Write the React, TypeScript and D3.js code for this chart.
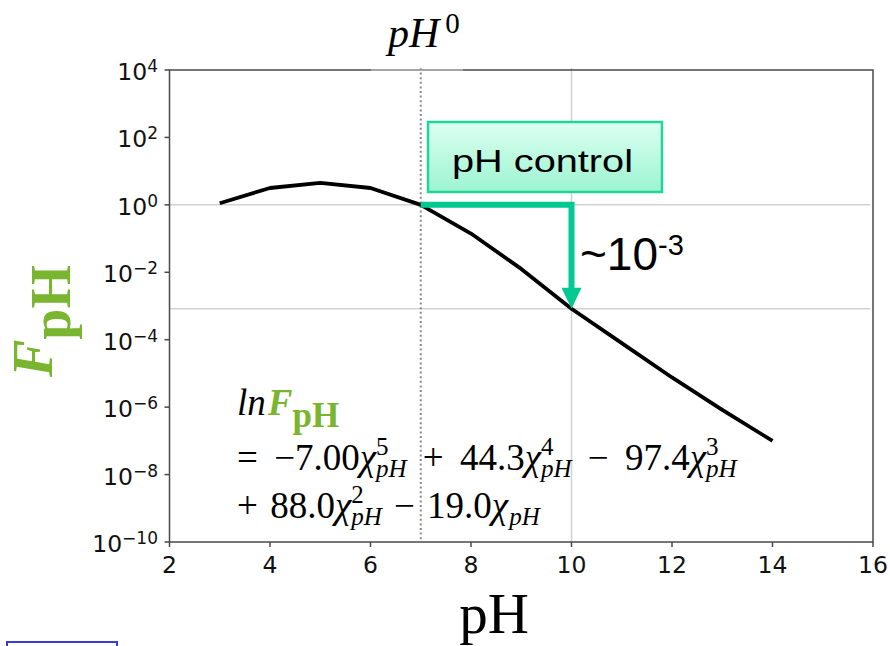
import React from "react";
import * as d3 from "d3";

// ---- data ----
const pHValues = [3, 4, 5, 6, 7, 8, 9, 10, 11, 12, 13, 14];
const FValues = [1.12, 3.16, 4.47, 3.16, 1.0, 0.141, 0.0126, 8.3e-4, 7.9e-5, 7.6e-6, 8.3e-7, 1.0e-7];
const xTicks = [2, 4, 6, 8, 10, 12, 14, 16];
const yExponents = [4, 2, 0, -2, -4, -6, -8, -10];
const refPH = 7;
const targetPH = 10;
const coefs = [-7.0, 44.3, -97.4, 88.0, -19.0];
const powers = [5, 4, 3, 2, 1];

const W = 890;
const H = 646;
const GREEN = "#7ab530";
const TEAL = "#00c992";
const SERIF = "'Liberation Serif', 'Times New Roman', serif";
const SANS = "'DejaVu Sans', sans-serif";
const ARIAL = "'Liberation Sans', Arial, sans-serif";

const EQ_SIZE = 37;
const SUB_SIZE = 25;

export default function App() {
  const x = d3.scaleLinear().domain([2, 16]).range([169.5, 873]);
  const y = d3.scaleLog().domain([1e-10, 1e4]).range([542, 70]);
  const [x0, x1] = x.range();
  const [yb, yt] = y.range();

  const line = d3
    .line<number>()
    .x((_, i) => x(pHValues[i]))
    .y((d) => y(d));

  const fTarget = FValues[pHValues.indexOf(targetPH)];
  const fRef = FValues[pHValues.indexOf(refPH)];
  const gridY = [1, fTarget];
  const fmt = d3.format(".3r");

  const minus = (s: string) => s.replace("-", "\u2212");

  const renderTerms = (idx: number[], prefix: string) => {
    const parts: React.ReactNode[] = [];
    parts.push(<tspan key="pre">{prefix}</tspan>);
    idx.forEach((k, j) => {
      const c = coefs[k];
      const p = powers[k];
      let op = "";
      if (j === 0) op = c < 0 ? " \u2212" : " ";
      else op = c < 0 ? " \u2212 " : " + ";
      parts.push(
        <tspan key={"op" + k} dy={j === 0 ? 0 : -7}>
          {op}
        </tspan>
      );
      parts.push(<tspan key={"c" + k}>{fmt(Math.abs(c))}</tspan>);
      parts.push(
        <tspan key={"x" + k} fontStyle="italic">
          χ
        </tspan>
      );
      if (p > 1) {
        parts.push(
          <tspan key={"p" + k} fontSize={SUB_SIZE} dy={-15}>
            {String(p)}
          </tspan>
        );
      }
      parts.push(
        <tspan
          key={"s" + k}
          fontSize={SUB_SIZE}
          fontStyle="italic"
          dx={p > 1 ? -SUB_SIZE * 0.5 : 1}
          dy={p > 1 ? 22 : 7}
        >
          pH
        </tspan>
      );
    });
    return parts;
  };

  const arrowX = x(targetPH);
  const arrowTip = y(fTarget);

  return (
    <svg
      width={W}
      height={H}
      style={{ position: "absolute", left: 0, top: 0, background: "#fff" }}
      xmlns="http://www.w3.org/2000/svg"
    >
      <defs>
        <linearGradient id="boxGrad" x1="0" y1="0" x2="0" y2="1">
          <stop offset="0" stopColor="#dcfff1" />
          <stop offset="1" stopColor="#9cf4d1" />
        </linearGradient>
      </defs>

      {/* grid */}
      {gridY.map((g, i) => (
        <line key={"gy" + i} x1={x0} x2={x1 - 3} y1={y(g)} y2={y(g)} stroke="#d2d2d2" strokeWidth={1.5} />
      ))}
      <line x1={x(targetPH)} x2={x(targetPH)} y1={yt - 2} y2={yb} stroke="#d2d2d2" strokeWidth={1.5} />

      {/* dotted reference line */}
      <line
        x1={x(refPH)}
        x2={x(refPH)}
        y1={yt - 2}
        y2={yb}
        stroke="#8a8a8a"
        strokeWidth={2}
        strokeDasharray="2 2.6"
      />

      {/* spines */}
      <rect x={x0} y={yt} width={x1 - x0} height={yb - yt} fill="none" stroke="#4a4a4a" strokeWidth={1.5} />
      <rect x={371} y={66} width={92} height={6} fill="#fff" fillOpacity={0.35} />

      {/* ticks */}
      {xTicks.map((t) => (
        <g key={"xt" + t}>
          <line x1={x(t)} x2={x(t)} y1={yb} y2={yb + 5} stroke="#4a4a4a" strokeWidth={1.5} />
          <text x={x(t)} y={yb + 31} textAnchor="middle" fontFamily={SANS} fontSize={23.5} fill="#111">
            {t}
          </text>
        </g>
      ))}
      {yExponents.map((e) => (
        <g key={"yt" + e}>
          <line x1={x0 - 5} x2={x0} y1={y(Math.pow(10, e))} y2={y(Math.pow(10, e))} stroke="#4a4a4a" strokeWidth={1.5} />
          <text
            x={158}
            y={y(Math.pow(10, e)) + 10}
            textAnchor="end"
            fontFamily={SANS}
            fontSize={23.5}
            fill="#111"
          >
            10
            <tspan fontSize={17} dy={-8}>
              {minus(String(e))}
            </tspan>
          </text>
        </g>
      ))}

      {/* curve */}
      <path d={line(FValues) || ""} fill="none" stroke="#000" strokeWidth={3.8} strokeLinejoin="round" />

      {/* pH control arrow */}
      <path
        d={`M${x(refPH)},${y(fRef)} H${arrowX} V${arrowTip - 18}`}
        fill="none"
        stroke={TEAL}
        strokeWidth={6}
        strokeLinejoin="miter"
      />
      <path d={`M${arrowX - 10},${arrowTip - 21} L${arrowX + 10},${arrowTip - 21} L${arrowX},${arrowTip} Z`} fill={TEAL} />

      {/* pH control box */}
      <rect x={428} y={122} width={234} height={70} fill="url(#boxGrad)" stroke="#22d39a" strokeWidth={2.5} />
      <text
        x={452}
        y={172}
        fontFamily={ARIAL}
        fontSize={32}
        fill="#000"
        textLength={181}
        lengthAdjust="spacingAndGlyphs"
      >
        pH control
      </text>

      {/* ~10^-3 */}
      <text x={580} y={270} fontFamily={ARIAL} fontSize={46} fill="#000">
        ~10
        <tspan fontSize={29} dy={-15}>
          -3
        </tspan>
      </text>

      {/* pH^0 */}
      <text x={388} y={47} fontFamily={SERIF} fontSize={42} fill="#000">
        <tspan fontStyle="italic">pH</tspan>
        <tspan fontSize={29} dy={-14} dx={6}>
          0
        </tspan>
      </text>

      {/* equation */}
      <text x={237} y={415} fontFamily={SERIF} fontSize={EQ_SIZE} fill="#000">
        <tspan fontStyle="italic">ln</tspan>
        <tspan fontStyle="italic" fontWeight="bold" fill={GREEN} dx={2}>
          F
        </tspan>
        <tspan fontWeight="bold" fill={GREEN} dy={12} fontSize={35}>
          pH
        </tspan>
      </text>
      <text
        x={237}
        y={470}
        fontFamily={SERIF}
        fontSize={EQ_SIZE}
        fill="#000"
        style={{ whiteSpace: "pre", wordSpacing: "7px" }}
      >
        {renderTerms([0, 1, 2], "=")}
      </text>
      <text
        x={237}
        y={518}
        fontFamily={SERIF}
        fontSize={EQ_SIZE}
        fill="#000"
        style={{ whiteSpace: "pre", wordSpacing: "3px" }}
      >
        {renderTerms([3, 4], "+")}
      </text>

      {/* axis labels */}
      <text x={494} y={633} textAnchor="middle" fontFamily={SERIF} fontSize={57} fill="#000">
        pH
      </text>
      <text transform="translate(52,377) rotate(-90)" fontFamily={SERIF} fontSize={56} fontWeight="bold" fill={GREEN}>
        <tspan fontStyle="italic">F</tspan>
        <tspan dy={18}>pH</tspan>
      </text>

      {/* partial blue box at bottom-left */}
      <rect x={7} y={642} width={110} height={20} fill="#fff" stroke="#3b3bd9" strokeWidth={2} />
    </svg>
  );
}
